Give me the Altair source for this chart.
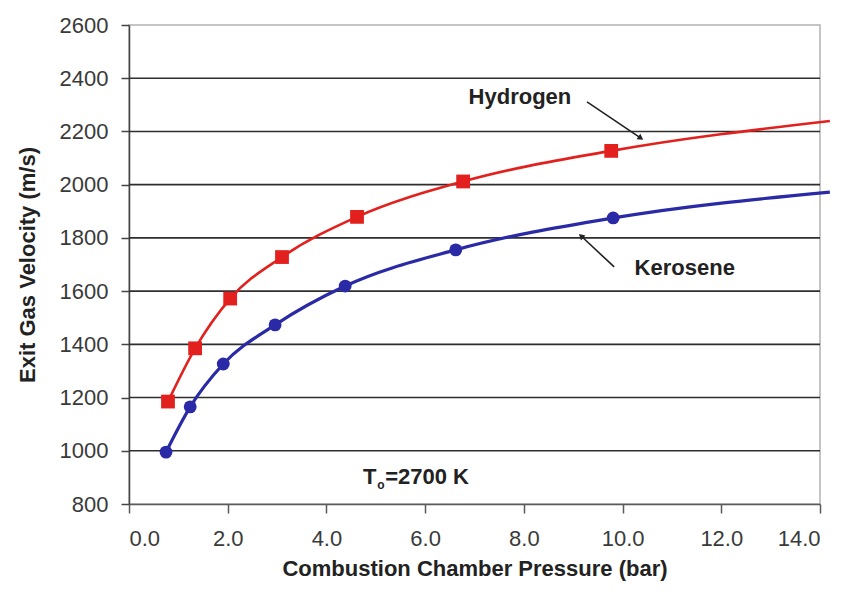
import altair as alt
import pandas as pd

# ---- data ----
h2_x = [0.79, 1.34, 2.05, 3.10, 4.62, 6.77, 9.77]
h2_y = [1185, 1385, 1572, 1728, 1879, 2012, 2127]
h2_end_x = 14.2
h2_end_y = 2239

ker_x = [0.75, 1.24, 1.91, 2.96, 4.38, 6.62, 9.81]
ker_y = [995, 1165, 1326, 1473, 1619, 1755, 1875]
ker_end_x = 14.2
ker_end_y = 1972

x_ticks = [0, 2, 4, 6, 8, 10, 12, 14]
y_ticks = [800, 1000, 1200, 1400, 1600, 1800, 2000, 2200, 2400, 2600]
grid_y = [1000, 1200, 1400, 1600, 1800, 2000, 2200, 2400]

labels = ["Hydrogen", "Kerosene"]
label_x = [7.92, 11.26]
label_y = [2329, 1687]

arrow_x = [9.28, 9.83]
arrow_y = [2311, 1691]
arrow_x2 = [10.37, 9.16]
arrow_y2 = [2175, 1807]
arrow_angle = [124, 313]

RED = "#e2201d"
BLUE = "#2a2aa6"
FONT = "Liberation Sans"

# ---- tables ----
h2_line = pd.DataFrame({"x": h2_x + [h2_end_x], "y": h2_y + [h2_end_y]})
ker_line = pd.DataFrame({"x": ker_x + [ker_end_x], "y": ker_y + [ker_end_y]})
h2_pts = pd.DataFrame({"x": h2_x, "y": h2_y})
ker_pts = pd.DataFrame({"x": ker_x, "y": ker_y})
grid_df = pd.DataFrame({"y": grid_y})
lab_df = pd.DataFrame({"label": labels, "x": label_x, "y": label_y})
arr_df = pd.DataFrame({"x": arrow_x, "y": arrow_y, "x2": arrow_x2, "y2": arrow_y2,
                       "angle": arrow_angle})

X = alt.X("x:Q",
          scale=alt.Scale(domain=[0, 14], nice=False, zero=False),
          axis=alt.Axis(values=x_ticks, format=".1f", grid=False,
                        title="Combustion Chamber Pressure (bar)",
                        tickSize=9, labelPadding=15, titlePadding=9,
                        domainColor="#5a5a5a", tickColor="#5a5a5a",
                        domainWidth=1.5, tickWidth=1.5))
Y = alt.Y("y:Q",
          scale=alt.Scale(domain=[800, 2600], nice=False, zero=False),
          axis=alt.Axis(values=y_ticks, format="d", grid=False,
                        title="Exit Gas Velocity (m/s)",
                        tickSize=8, labelPadding=13, titlePadding=20,
                        domainColor="#444444", tickColor="#444444",
                        domainWidth=1.5, tickWidth=1.5))

grid = alt.Chart(grid_df).mark_rule(color="#2e2e2e", strokeWidth=1.6).encode(y=Y)

h2 = alt.Chart(h2_line).mark_line(color=RED, strokeWidth=2.6,
                                  interpolate="monotone").encode(x=X, y=Y)
ker = alt.Chart(ker_line).mark_line(color=BLUE, strokeWidth=3.2,
                                    interpolate="monotone").encode(x=X, y=Y)
h2_m = alt.Chart(h2_pts).mark_point(shape="square", filled=True, opacity=1,
                                    color=RED, size=190).encode(x=X, y=Y)
ker_m = alt.Chart(ker_pts).mark_point(shape="circle", filled=True, opacity=1,
                                      color=BLUE, size=165).encode(x=X, y=Y)

arrows = alt.Chart(arr_df).mark_rule(color="#222222", strokeWidth=1.6).encode(
    x=X, y=Y, x2="x2:Q", y2="y2:Q")
heads = alt.Chart(arr_df).mark_point(shape="triangle-up", filled=True, opacity=1,
                                     color="#222222", size=45).encode(
    x=alt.X("x2:Q", scale=alt.Scale(domain=[0, 14], nice=False, zero=False)),
    y=alt.Y("y2:Q", scale=alt.Scale(domain=[800, 2600], nice=False, zero=False)),
    angle=alt.Angle("angle:Q", scale=None))

texts = alt.Chart(lab_df).mark_text(font=FONT, fontSize=22, fontWeight="bold",
                                    color="#222222").encode(
    x=X, y=Y, text="label:N")

t_main = alt.Chart(pd.DataFrame({"x": [4.74], "y": [901], "t": ["T"]})).mark_text(
    font=FONT, fontSize=22, fontWeight="bold", color="#222222", align="left"
).encode(x=X, y=Y, text="t:N")
t_sub = alt.Chart(pd.DataFrame({"x": [5.03], "y": [872], "t": ["o"]})).mark_text(
    font=FONT, fontSize=12, fontWeight="bold", color="#222222", align="left"
).encode(x=X, y=Y, text="t:N")
t_rest = alt.Chart(pd.DataFrame({"x": [5.19], "y": [901], "t": ["=2700 K"]})).mark_text(
    font=FONT, fontSize=22, fontWeight="bold", color="#222222", align="left"
).encode(x=X, y=Y, text="t:N")

chart = alt.layer(
    grid, h2, ker, h2_m, ker_m, arrows, heads, texts, t_main, t_sub, t_rest
).properties(
    width=691, height=479,
    autosize=alt.AutoSizeParams(type="none"),
    padding={"left": 121, "top": 17, "right": 19, "bottom": 82},
).configure_view(
    stroke="#b3b3b3", strokeWidth=1.5
).configure_axis(
    labelFont=FONT, labelFontSize=22, labelColor="#3a3a3a",
    titleFont=FONT, titleFontSize=22, titleFontWeight="bold", titleColor="#222222",
)

chart.save("out.html", embed_options={"renderer": "svg", "actions": False})
